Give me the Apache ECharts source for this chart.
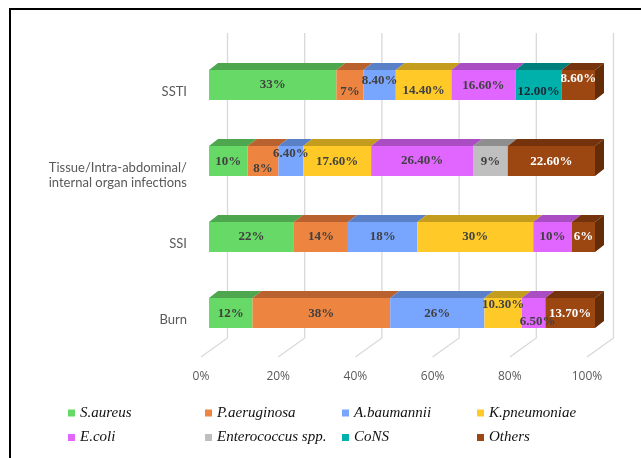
<!DOCTYPE html>
<html>
<head>
<meta charset="utf-8">
<script src="https://cdn.jsdelivr.net/npm/echarts@6/dist/echarts.min.js"></script>
<style>
  html, body { margin: 0; padding: 0; background: #fff; }
  #chart { width: 641px; height: 458px; }
</style>
</head>
<body>
<div id="chart"></div>
<script>
// Infection sites (top to bottom) and organisms
const categories = ['SSTI', 'Tissue/Intra-abdominal/\ninternal organ infections', 'SSI', 'Burn'];
const organisms = ['S.aureus', 'P.aeruginosa', 'A.baumannii', 'K.pneumoniae', 'E.coli', 'Enterococcus spp.', 'CoNS', 'Others'];

// Share of isolates (%) per site, same order as categories
const sAureus      = [33, 10, 22, 12];
const pAeruginosa  = [7, 8, 14, 38];
const aBaumannii   = [8.4, 6.4, 18, 26];
const kPneumoniae  = [14.4, 17.6, 30, 10.3];
const eColi        = [16.6, 26.4, 10, 6.5];
const enterococcus = [0, 9, 0, 0];
const coNS         = [12.0, 0, 0, 0];
const others       = [8.6, 22.6, 6, 13.7];

const xTicks = [0, 20, 40, 60, 80, 100];

const values = [sAureus, pAeruginosa, aBaumannii, kPneumoniae, eColi, enterococcus, coNS, others];

// Face colours (front / top / right side) and label colours per organism
const styles = [
  { front: '#66D966', top: '#4EA64F', side: '#3F8A40', text: '#404040' },
  { front: '#ED843F', top: '#B9622F', side: '#9A5127', text: '#404040' },
  { front: '#78A6FF', top: '#5A80C8', side: '#4A6AA8', text: '#404040' },
  { front: '#FFCA28', top: '#C49C1E', side: '#A38219', text: '#404040' },
  { front: '#E066FF', top: '#AA4CC2', side: '#8C3EA0', text: '#404040' },
  { front: '#BFBFBF', top: '#8E8E8E', side: '#777777', text: '#404040' },
  { front: '#00B0AA', top: '#00807C', side: '#006A66', text: '#1B2733', decimals: 2 },
  { front: '#9C4612', top: '#74330C', side: '#652C08', text: '#FFFFFF' }
];

// Small vertical shifts of crowded value labels: key = siteIndex-organismIndex
const labelShift = {
  '0-1': 7, '0-2': -4, '0-3': 6, '0-4': 1, '0-6': 7, '0-7': -6,
  '1-0': 1, '1-1': 8, '1-2': -7, '1-3': 1, '1-5': 1, '1-6': 1, '1-7': 1,
  '3-0': 1, '3-1': 1, '3-2': 1, '3-3': -8, '3-4': 9, '3-7': 1
};
const labelShiftX = { '3-4': 4 };

const DX = 9, DY = 7;          // depth of the 3D bars
const BAR_RATIO = 0.395;       // front-face height / band height

// 100% stacked: each site is normalised to its total
const totals = categories.map((_, r) => values.reduce((s, arr) => s + arr[r], 0));

function fmt(v, decimals) {
  if (decimals) return v.toFixed(decimals) + '%';
  return (Number.isInteger(v) ? String(v) : v.toFixed(2)) + '%';
}

function segmentData(si) {
  const out = [];
  categories.forEach((_, r) => {
    const v = values[si][r];
    if (!v) return;
    let cum = 0;
    for (let k = 0; k < si; k++) cum += values[k][r];
    const start = cum / totals[r] * 100;
    const end = (cum + v) / totals[r] * 100;
    out.push([start, end, r, v]);
  });
  return out;
}

function renderSegment(si) {
  const st = styles[si];
  return function (params, api) {
    const start = api.value(0), end = api.value(1), row = api.value(2), v = api.value(3);
    const p0 = api.coord([start, row]);
    const p1 = api.coord([end, row]);
    const h = api.size([0, 1])[1] * BAR_RATIO;
    const x0 = p0[0], x1 = p1[0];
    const yt = p0[1] - h / 2, yb = yt + h;
    const children = [
      { type: 'polygon', shape: { points: [[x0, yt], [x0 + DX, yt - DY], [x1 + DX, yt - DY], [x1, yt]] },
        style: { fill: st.top }, z2: 1 },
      { type: 'rect', shape: { x: x0, y: yt, width: x1 - x0, height: h },
        style: { fill: st.front }, z2: 2 }
    ];
    if (end >= 99.999) {
      children.push({ type: 'polygon', shape: { points: [[x1, yt], [x1 + DX, yt - DY], [x1 + DX, yb - DY], [x1, yb]] },
        style: { fill: st.side }, z2: 1 });
    }
    const key = row + '-' + si;
    children.push({
      type: 'text', z2: 50,
      style: {
        x: (x0 + x1) / 2 + (labelShiftX[key] || 0),
        y: (yt + yb) / 2 + (labelShift[key] || 0),
        text: fmt(v, st.decimals),
        align: 'center', verticalAlign: 'middle',
        fill: st.text,
        font: 'bold 13px "Liberation Serif", "Times New Roman", serif'
      }
    });
    return { type: 'group', children };
  };
}

// Back-wall gridlines with their slanted floor continuation
function renderGrid(params, api) {
  const x = api.coord([api.value(0), 0])[0];
  const cs = params.coordSys;
  const wallTop = cs.y - 14, wallBottom = cs.y + cs.height - 13, floorFront = cs.y + cs.height + 6;
  const wx = x + 18.5, fx = x - 8;
  return {
    type: 'polyline',
    shape: { points: [[wx, wallTop], [wx, wallBottom], [fx, floorFront]] },
    style: { stroke: '#D9D9D9', lineWidth: 1.3, fill: null }
  };
}

const series = [{
  type: 'custom', name: 'grid', silent: true, z: 1,
  renderItem: renderGrid,
  data: xTicks.map(t => [t]),
  encode: { x: 0 }
}];
organisms.forEach((name, si) => {
  series.push({
    type: 'custom', name, z: 2,
    itemStyle: { color: styles[si].front },
    renderItem: renderSegment(si),
    data: segmentData(si),
    encode: { x: [0, 1], y: 2 }
  });
});

const legendText = { fontFamily: 'Liberation Serif, Times New Roman, serif', fontStyle: 'italic', fontSize: 15, color: '#111', lineHeight: 17 };
const legendCol = (names, left) => ({
  data: names, orient: 'vertical', left, top: 404.5, padding: 0,
  itemWidth: 7, itemHeight: 7, itemGap: 7.5, icon: 'rect',
  selectedMode: false, textStyle: legendText
});

const chart = echarts.init(document.getElementById('chart'), null, { renderer: 'canvas' });
chart.setOption({
  animation: false,
  backgroundColor: '#fff',
  grid: { left: 209, right: 46, top: 47, bottom: 107, containLabel: false },
  xAxis: {
    type: 'value', min: 0, max: 100, interval: 20,
    axisLine: { show: false }, axisTick: { show: false }, splitLine: { show: false },
    axisLabel: {
      formatter: '{value}%', margin: 20, padding: [0, 16, 0, 0],
      color: '#595959', fontSize: 12, fontFamily: '"Open Sans", sans-serif'
    }
  },
  yAxis: {
    type: 'category', data: categories, inverse: true,
    axisLine: { show: false }, axisTick: { show: false }, splitLine: { show: false },
    axisLabel: {
      margin: 22, align: 'right', verticalAlign: 'top', lineHeight: 14.5,
      color: '#595959', fontSize: 13, fontFamily: 'Lato, "Open Sans", sans-serif'
    }
  },
  legend: [
    legendCol(['S.aureus', 'E.coli'], 68),
    legendCol(['P.aeruginosa', 'Enterococcus spp.'], 205),
    legendCol(['A.baumannii', 'CoNS'], 342),
    legendCol(['K.pneumoniae', 'Others'], 477)
  ],
  graphic: [{
    type: 'polyline', silent: true,
    shape: { points: [[10, 458], [10, 9], [641, 9]] },
    style: { stroke: '#000', lineWidth: 2, fill: null }
  }],
  series
});
</script>
</body>
</html>
